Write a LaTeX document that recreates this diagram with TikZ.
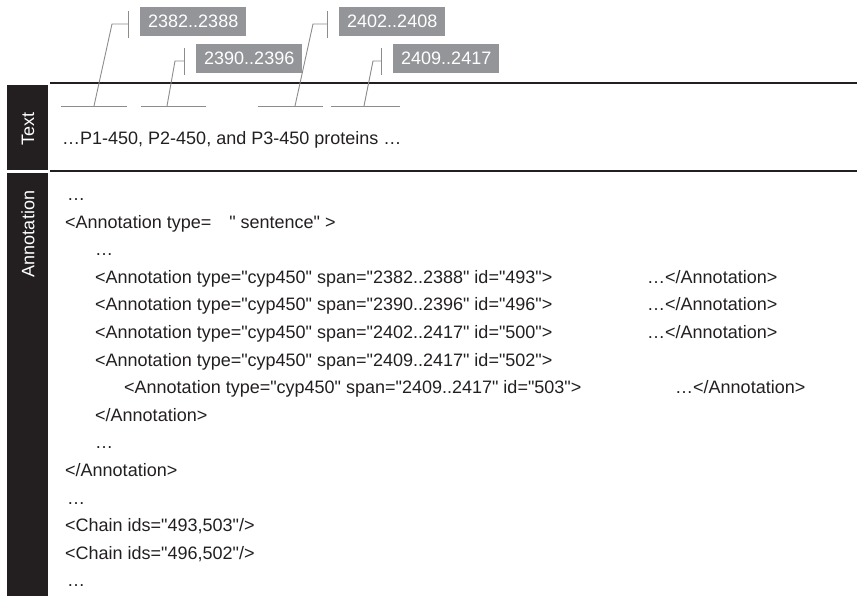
\documentclass[tikz,border=0pt]{standalone}
\usepackage{fontspec}
\setmainfont{Liberation Sans}[Ligatures=TeXOff]
\usetikzlibrary{positioning}

\definecolor{barblack}{HTML}{231F20}
\definecolor{spangray}{HTML}{939598}
\definecolor{leadgray}{HTML}{8C8C8C}
\definecolor{inkgray}{HTML}{231F20}

\tikzset{
  spanbox/.style={fill=spangray, text=white, anchor=west, inner xsep=8pt,
    minimum height=29pt, font=\fontsize{18}{20}\selectfont},
  leader/.style={leadgray, line width=0.9pt},
  divider/.style={barblack, line width=1.5pt},
  sidebar/.style={fill=barblack},
  sidetag/.style={text=white, rotate=90, font=\fontsize{18}{20}\selectfont},
  codeline/.style={anchor=base west, inner sep=0pt, text=inkgray,
    font=\fontsize{18}{20}\selectfont}
}

\begin{document}
\begin{tikzpicture}[x=1pt, y=-1pt]
  \useasboundingbox (0,0) rectangle (857,596);

  % side bars
  \fill[sidebar] (7,85) rectangle (48,170);
  \fill[sidebar] (7,173) rectangle (48,596);
  \node[sidetag] (tagtext) at (28,129) {Text};
  \node[sidetag] (tagann) at (28,234) {Annotation};
  \draw[divider] (50,83) -- (857,83);
  \draw[divider] (50,171) -- (857,171);

  % spans with their labels
  \foreach \n/\ul/\ur/\ft/\kx/\ky/\tx/\lab in {
      a/61/127/94/112/24/128/2382..2388,
      b/141/206/167/175/61/184/2390..2396,
      c/258/323/295/313/24/327/2402..2408,
      d/331/400/364/373/61/381/2409..2417}{
    \draw[leader] (\ul,106) -- (\ur,106);
    \coordinate (foot\n) at (\ft,106);
    \coordinate (knee\n) at (\kx,\ky);
    \coordinate (tick\n) at (\tx,\ky);
    \draw[leader] (foot\n) -- (knee\n) -- (tick\n);
    \draw[leader] ([yshift=-14pt]tick\n) -- ([yshift=13pt]tick\n);
    \node[spanbox] (span\n) at (\tx+12,\ky-2.5) {\lab};
  }

  % running text
  \node[codeline] (sent) at (62,144.5) {…P1-450, P2-450, and P3-450 proteins …};

  % annotation listing
  \foreach \i/\x/\t in {
      0/67/{…},
      1/65/{<Annotation type=\hspace{18pt}" sentence" >},
      2/95/{…},
      3/95/{<Annotation type="cyp450" span="2382..2388" id="493">},
      4/95/{<Annotation type="cyp450" span="2390..2396" id="496">},
      5/95/{<Annotation type="cyp450" span="2402..2417" id="500">},
      6/95/{<Annotation type="cyp450" span="2409..2417" id="502">},
      7/124/{<Annotation type="cyp450" span="2409..2417" id="503">},
      8/95/{</Annotation>},
      9/95/{…},
      10/65/{</Annotation>},
      11/67/{…},
      12/65/{<Chain ids="493,503"/>},
      13/65/{<Chain ids="496,502"/>},
      14/67/{…}}{
    \node[codeline] (row\i) at (\x,200.5+27.6*\i) {\t};
  }
  \foreach \i/\x in {3/647, 4/647, 5/647, 7/675}{
    \node[codeline] (end\i) at (\x,200.5+27.6*\i) {…</Annotation>};
  }
\end{tikzpicture}
\end{document}
